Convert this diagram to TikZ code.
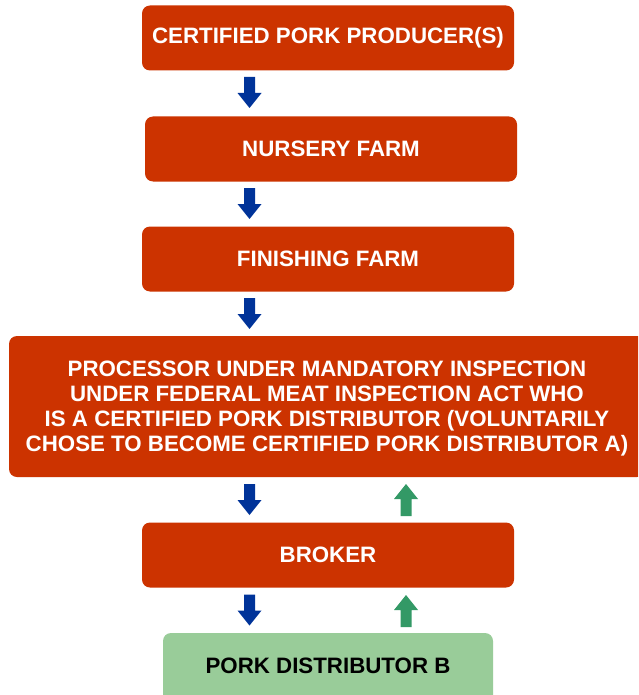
\documentclass[tikz,border=0pt]{standalone}
\usepackage{fontspec}
\setmainfont{Liberation Sans}
\definecolor{boxred}{HTML}{CC3300}
\definecolor{arrblue}{HTML}{003399}
\definecolor{arrgreen}{HTML}{339966}
\definecolor{boxgreen}{HTML}{99CC99}
\begin{document}
\begin{tikzpicture}[x=1pt,y=-1pt,
  redbox/.style={fill=boxred, rounded corners=8pt, text=white, font=\fontsize{22.3}{25}\selectfont\bfseries, align=center, inner sep=0pt},
  greenbox/.style={fill=boxgreen, rounded corners=8pt, text=black, font=\fontsize{22.3}{25}\selectfont\bfseries, align=center, inner sep=0pt},
  boxtext/.style={font=\fontsize{22.3}{25}\selectfont\bfseries, align=center, inner sep=0pt},
  downarr/.pic={\fill[arrblue] (-5.5,0) -- (5.5,0) -- (5.5,16) -- (12,16) -- (0,31) -- (-12,16) -- (-5.5,16) -- cycle;},
  uparr/.pic={\fill[arrgreen] (-5.5,32) -- (5.5,32) -- (5.5,15) -- (12,15) -- (0,0) -- (-12,15) -- (-5.5,15) -- cycle;}
]
\useasboundingbox (0,0) rectangle (638,695);
\fill[white] (0,0) rectangle (638,695);
\begin{scope}
\clip (0,0) rectangle (638,695);
\node[redbox, minimum width=372pt, minimum height=65pt] (prod) at (328,38) {CERTIFIED PORK PRODUCER(S)};
\node[redbox, minimum width=372pt, minimum height=65pt] (nurs) at (331,149) {NURSERY FARM};
\node[redbox, minimum width=372pt, minimum height=65pt] (fin) at (328,259) {FINISHING FARM};
\node[redbox, minimum width=636pt, minimum height=141pt] (proc) at (327,406.5) {};
\node[boxtext, text=white] (proctext) at (327,409) {PROCESSOR UNDER MANDATORY INSPECTION\\UNDER FEDERAL MEAT INSPECTION ACT WHO\\IS A CERTIFIED PORK DISTRIBUTOR (VOLUNTARILY\\CHOSE TO BECOME CERTIFIED PORK DISTRIBUTOR A)};
\node[redbox, minimum width=372pt, minimum height=65pt] (brok) at (328,555) {BROKER};
\node[greenbox, minimum width=330pt, minimum height=80pt] (dist) at (328,673) {};
\node[boxtext] (distlabel) at (328,666) {PORK DISTRIBUTOR B};
\end{scope}
\pic at (249.5,77) {downarr};
\pic at (249.5,188) {downarr};
\pic at (249.5,298) {downarr};
\pic at (249.5,484) {downarr};
\pic at (249.5,594.5) {downarr};
\pic at (406,484) {uparr};
\pic at (406,595) {uparr};
\end{tikzpicture}
\end{document}
